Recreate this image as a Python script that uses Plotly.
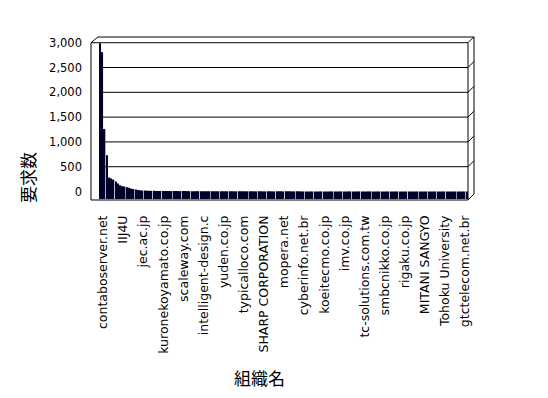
import plotly.graph_objects as go

# ---- data ----
tick_labels = [
    "contaboserver.net", "IIJ4U", "jec.ac.jp", "kuronekoyamato.co.jp", "scaleway.com",
    "intelligent-design.c", "yuden.co.jp", "typicalloco.com", "SHARP CORPORATION",
    "mopera.net", "cyberinfo.net.br", "koeitecmo.co.jp", "imv.co.jp",
    "tc-solutions.com.tw", "smbcnikko.co.jp", "rigaku.co.jp", "MITANI SANGYO",
    "Tohoku University", "gtctelecom.net.br",
]
tick_positions = [0, 9, 18, 27, 36, 45, 54, 63, 72, 81, 90, 99, 108, 117, 126, 135, 144, 153, 162]

values = [
    2990, 2810, 1260, 730, 285, 265, 240, 200, 160, 125,
    110, 100, 85, 75, 60, 50, 40, 30, 25, 20,
    18, 16, 15, 14, 13, 12, 12, 11, 11, 10,
    10, 10, 9, 9, 9, 9, 8, 8, 8, 8,
    7, 7, 7, 7, 7, 6, 6, 6, 6, 6,
    6, 5, 5, 5, 5, 5, 5, 5, 5, 4,
    4, 4, 4, 4, 4, 4, 4, 4, 4, 4,
    4, 3, 3, 3, 3, 3, 3, 3, 3, 3,
    3, 3, 3, 3, 3, 3, 3, 3, 3, 3,
    2, 2, 2, 2, 2, 2, 2, 2, 2, 2,
    2, 2, 2, 2, 2, 2, 2, 2, 2, 2,
    2, 2, 2, 2, 2, 2, 2, 2, 2, 2,
    2, 2, 2, 2, 2, 1, 1, 1, 1, 1,
    1, 1, 1, 1, 1, 1, 1, 1, 1, 1,
    1, 1, 1, 1, 1, 1, 1, 1, 1, 1,
    1, 1, 1, 1, 1, 1, 1, 1, 1, 1,
    1, 1, 1, 1, 1,
]
y_ticks = [0, 500, 1000, 1500, 2000, 2500, 3000]

# ---- layout geometry (window pixels) ----
OFF = 8  # default page body margin
W, H = 548, 398
L, R, T, B = 91, 474, 37, 200
BAR_LEFT, BAR_RIGHT = 99, 468
DEPTH = 6
LABEL_SHIFT_PX = 3
YMIN, YMAX = -171, 3115
FLOOR = 150  # bars extend into the 3D floor band

N = len(values)
xs = list(range(N))
pitch = (BAR_RIGHT - BAR_LEFT) / N
xr0 = -0.5 - (BAR_LEFT - L) / pitch
xr1 = N - 0.5 + (R - BAR_RIGHT) / pitch


def fx(p):
    return (p - L) / (R - L)


def fy(p):
    return (B - p) / (B - T)


def val_to_px(v):
    return B - (v - YMIN) / (YMAX - YMIN) * (B - T)


shapes = []


def seg(x0, y0, x1, y1):
    shapes.append(dict(type="line", xref="paper", yref="paper",
                       x0=fx(x0), y0=fy(y0), x1=fx(x1), y1=fy(y1),
                       line=dict(color="black", width=1)))


top_front = val_to_px(y_ticks[-1])
# frame
seg(L + DEPTH + 1, T, R, T)
seg(L + DEPTH + 1, T, L, top_front)
seg(L, top_front, L, B)
seg(L, B, BAR_RIGHT, B)
seg(BAR_RIGHT, top_front, BAR_RIGHT, B)
seg(R, T, R, B - DEPTH)
seg(BAR_RIGHT, B, R, B - DEPTH)
seg(L, top_front, BAR_RIGHT, top_front)
seg(BAR_RIGHT, top_front, R, top_front - DEPTH)
# gridlines
for t in y_ticks[1:-1]:
    gy = val_to_px(t)
    seg(BAR_LEFT, gy, BAR_RIGHT, gy)
    seg(BAR_RIGHT, gy, R, gy - DEPTH)

fig = go.Figure()
fig.add_trace(go.Bar(
    x=xs,
    y=[v + FLOOR for v in values],
    base=-FLOOR,
    marker=dict(color="#000028", line=dict(width=0)),
    hovertext=[str(v) for v in values],
    hoverinfo="text",
))

fig.update_layout(
    width=W - OFF, height=H - OFF,
    margin=dict(l=L - OFF, r=W - R, t=T - OFF, b=H - B, pad=0),
    paper_bgcolor="white", plot_bgcolor="white",
    bargap=0.35,
    showlegend=False,
    font=dict(family="DejaVu Sans", size=11, color="black"),
    shapes=shapes,
    xaxis=dict(
        range=[xr0, xr1],
        tickmode="array",
        tickvals=[p + LABEL_SHIFT_PX / pitch for p in tick_positions],
        ticktext=tick_labels,
        tickangle=-90, ticks="", showgrid=False, zeroline=False, showline=False,
        ticklabelstandoff=12,
        tickfont=dict(family="DejaVu Sans", size=12.5, color="black"),
    ),
    yaxis=dict(
        range=[YMIN, YMAX],
        tickmode="array", tickvals=y_ticks, tickformat=",",
        ticks="", showgrid=False, zeroline=False, showline=False,
        ticklabelstandoff=8,
        tickfont=dict(family="DejaVu Sans", size=11.5, color="black"),
    ),
    annotations=[
        dict(text="要求数", textangle=-90, xref="paper", yref="paper",
             x=fx(27), y=fy(178), xanchor="center", yanchor="middle", showarrow=False,
             font=dict(family="Noto Sans CJK JP", size=17, color="black")),
        dict(text="組織名", xref="paper", yref="paper",
             x=fx(259), y=fy(377), xanchor="center", yanchor="middle", showarrow=False,
             font=dict(family="Noto Sans CJK JP", size=17, color="black")),
    ],
)

fig.write_html("out.html")
